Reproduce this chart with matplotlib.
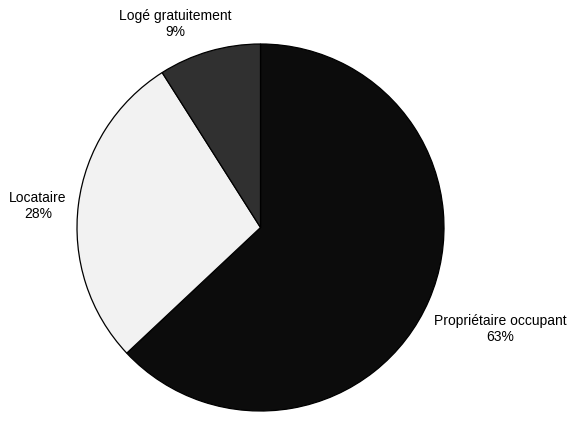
import matplotlib.pyplot as plt

# data
labels = ['Propriétaire occupant', 'Locataire', 'Logé gratuitement']
shares = [63, 28, 9]
colors = ['#0c0c0c', '#f2f2f2', '#303030']

# label anchor positions, in pixels of the 571x428 picture
label_px = [(500, 329), (38, 206), (175, 24)]

plt.rcParams['font.family'] = ['Liberation Sans', 'DejaVu Sans']

W, H = 571, 428
cx, cy, r = 260.5, 227.5, 183.5

fig = plt.figure(figsize=(W / 100, H / 100), dpi=100)
ax = fig.add_axes([0, 0, 1, 1])

wedges, _ = ax.pie(shares, colors=colors, startangle=90, counterclock=False,
                   radius=1.0, wedgeprops=dict(edgecolor='black', linewidth=0.9))

for lab, val, (px, py) in zip(labels, shares, label_px):
    x = (px - cx) / r
    y = (cy - py) / r
    ax.text(x, y, f'{lab}\n{val}%', ha='center', va='center', fontsize=10,
            linespacing=1.2)

ax.set_xlim(-cx / r, (W - cx) / r)
ax.set_ylim(-(H - cy) / r, cy / r)
ax.set_aspect('auto')
ax.axis('off')

fig.savefig('out.png', dpi=100)
